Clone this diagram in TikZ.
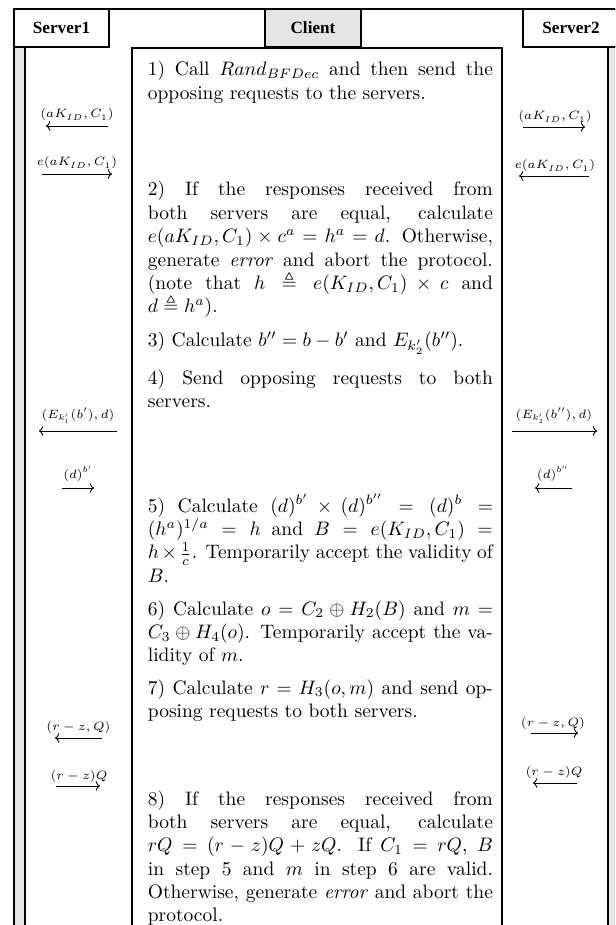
\RequirePackage{fix-cm}
\documentclass[tikz,border=0pt]{standalone}
\usepackage{amsmath,amssymb}
\usepackage{fontspec}
\newfontfamily\hdrfont{Liberation Serif}
\usetikzlibrary{arrows.meta}
\newlength\stepw
\setlength\stepw{177pt}
\newcommand\jline[1]{\hbox to\stepw{#1}}
\newcommand\lline[1]{\hbox{#1}}
\newcommand\steptext[1]{\vtop{#1}}
\begin{document}
\begin{tikzpicture}[x=0.513pt,y=-0.513pt,
  frame/.style={line width=1pt},
  hdr/.style={font=\hdrfont\bfseries\fontsize{8.8}{10.5}\selectfont, inner sep=0pt},
  stepbox/.style={anchor=base west, inner sep=0pt, font=\fontsize{10}{12}\selectfont},
  lbl/.style={anchor=base, inner sep=0pt, font=\fontsize{6.2}{7.5}\selectfont},
  msg/.style={line width=0.45pt, -{To[length=2.2pt,width=5pt]}},
]
\useasboundingbox (0,0) rectangle (615,925);
\clip (0,0) rectangle (615,925);
% lifelines
\draw[frame, fill=gray!20] (14,47) rectangle (25,960);
\draw[frame, fill=gray!20] (608,47) rectangle (619,960);
% client column
\draw[frame, fill=white] (132,48) rectangle (502,960);
% header boxes
\draw[frame, fill=white] (14,9) rectangle (109,47);
\draw[frame, fill=gray!20] (265,9) rectangle (361,47);
\draw[frame, fill=white] (523,9) rectangle (619,47);
\draw[frame] (14,9) -- (619,9);
\node[hdr] (h1) at (61.5,28) {Server1};
\node[hdr] (h2) at (313,28) {Client};
\node[hdr] (h3) at (571,28) {Server2};

% steps
\node[stepbox] (s1) at (147.5,76) {\steptext{%
\jline{1) Call $Rand_{BFDec}$ and then send the}%
\lline{opposing requests to the servers.}}};
\node[stepbox] (s2) at (147.5,196) {\steptext{%
\jline{2) If the responses received from}%
\jline{both servers are equal, calculate}%
\jline{$e(aK_{ID},C_1)\times c^a=h^a=d$. Otherwise,}%
\jline{generate \textit{error} and abort the protocol.}%
\jline{(note that $h\triangleq e(K_{ID},C_1)\times c$ and}%
\lline{$d\triangleq h^a$).}}};
\node[stepbox] (s3) at (147.5,347) {\steptext{%
\lline{3) Calculate $b''=b-b'$ and $E_{k_2'}(b'')$.}}};
\node[stepbox] (s4) at (147.5,384) {\steptext{%
\jline{4) Send opposing requests to both}%
\lline{servers.}}};
\node[stepbox] (s5) at (147.5,512) {\steptext{%
\jline{5) Calculate $(d)^{b'}\times(d)^{b''}=(d)^b=$}%
\jline{$(h^a)^{1/a}=h$ and $B=e(K_{ID},C_1)=$}%
\jline{$h\times\frac{1}{c}$. Temporarily accept the validity of}%
\lline{$B$.}}};
\node[stepbox] (s6) at (147.5,615) {\steptext{%
\jline{6) Calculate $o=C_2\oplus H_2(B)$ and $m=$}%
\jline{$C_3\oplus H_4(o)$. Temporarily accept the va-}%
\lline{lidity of $m$.}}};
\node[stepbox] (s7) at (147.5,694) {\steptext{%
\jline{7) Calculate $r=H_3(o,m)$ and send op-}%
\lline{posing requests to both servers.}}};
\node[stepbox] (s8) at (147.5,805) {\steptext{%
\jline{8) If the responses received from}%
\jline{both servers are equal, calculate}%
\jline{$rQ=(r-z)Q+zQ$. If $C_1=rQ$, $B$}%
\jline{in step 5 and $m$ in step 6 are valid.}%
\jline{Otherwise, generate \textit{error} and abort the}%
\lline{protocol.}}};

% arrow end points
\coordinate (l1t) at (108,126); \coordinate (l1h) at (46,126);
\coordinate (l2t) at (42,174);  \coordinate (l2h) at (112,174);
\coordinate (l3t) at (117,431); \coordinate (l3h) at (39,431);
\coordinate (l4t) at (62,488);  \coordinate (l4h) at (94,488);
\coordinate (l5t) at (102,738); \coordinate (l5h) at (55,738);
\coordinate (l6t) at (56,786);  \coordinate (l6h) at (100,786);
\coordinate (r1t) at (523,127); \coordinate (r1h) at (585,127);
\coordinate (r2t) at (589,176); \coordinate (r2h) at (519,176);
\coordinate (r3t) at (512,431); \coordinate (r3h) at (597,431);
\coordinate (r4t) at (572,488); \coordinate (r4h) at (535,488);
\coordinate (r5t) at (531,733); \coordinate (r5h) at (578,733);
\coordinate (r6t) at (577,783); \coordinate (r6h) at (533,783);

\foreach \a in {l1,l2,l3,l4,l5,l6,r1,r2,r3,r4,r5,r6}
  \draw[msg] (\a t) -- (\a h);

% labels
\node[lbl] (n1) at (77,118) {$(aK_{ID},C_1)$};
\node[lbl] (n2) at (77,166) {$e(aK_{ID},C_1)$};
\node[lbl] (n3) at (78,418) {$(E_{k_1'}(b'),d)$};
\node[lbl] (n4) at (78,478) {$(d)^{b'}$};
\node[lbl] (n5) at (78.5,730) {$(r-z,Q)$};
\node[lbl] (n6) at (79,779) {$(r-z)Q$};
\node[lbl] (m1) at (555,120) {$(aK_{ID},C_1)$};
\node[lbl] (m2) at (555,169) {$e(aK_{ID},C_1)$};
\node[lbl] (m3) at (554,418) {$(E_{k_2'}(b''),d)$};
\node[lbl] (m4) at (553,478) {$(d)^{b''}$};
\node[lbl] (m5) at (553,726) {$(r-z,Q)$};
\node[lbl] (m6) at (554,775) {$(r-z)Q$};
\end{tikzpicture}
\end{document}
